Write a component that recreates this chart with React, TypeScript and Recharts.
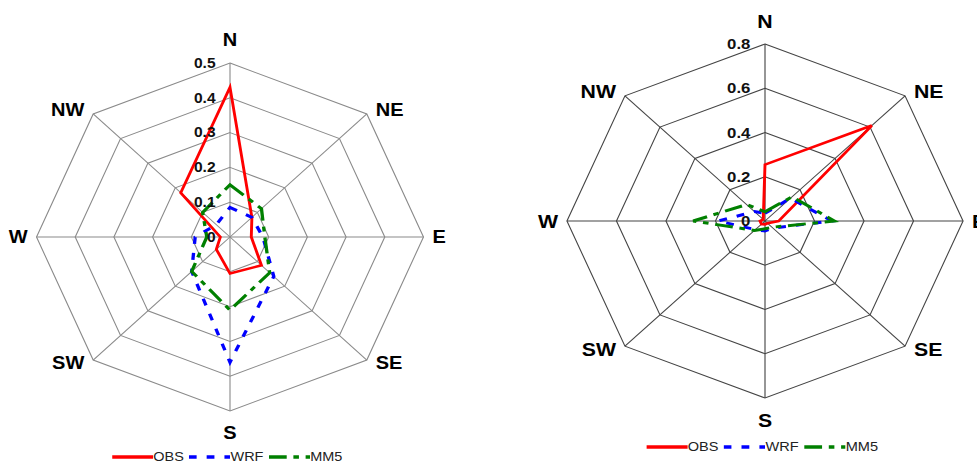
import React from "react";
import { RadarChart, Radar, PolarGrid, PolarAngleAxis, PolarRadiusAxis, Legend } from "recharts";

const DIRS = ["N", "NE", "E", "SE", "S", "SW", "W", "NW"];

// left rose
const ticksLeft = [0, 0.1, 0.2, 0.3, 0.4, 0.5];
const obsLeft = [0.43, 0.08, 0.055, 0.115, 0.105, 0.05, 0.025, 0.18];
const wrfLeft = [0.085, 0.08, 0.085, 0.16, 0.36, 0.14, 0.09, 0.05];
const mm5Left = [0.15, 0.115, 0.09, 0.145, 0.21, 0.14, 0.06, 0.1];

// right rose
const ticksRight = [0, 0.2, 0.4, 0.6, 0.8];
const obsRight = [0.255, 0.61, 0.055, 0.015, 0.015, 0.02, 0.02, 0.01];
const wrfRight = [0.035, 0.145, 0.27, 0.045, 0.045, 0.055, 0.19, 0.06];
const mm5Right = [0.042, 0.155, 0.28, 0.04, 0.035, 0.06, 0.29, 0.105];

const FONT = '"Liberation Sans", Arial, sans-serif';

const SERIES = [
  { key: "OBS", color: "#ff0000", dash: undefined as string | undefined, width: 2.6 },
  { key: "WRF", color: "#0000ff", dash: "7 9", width: 3 },
  { key: "MM5", color: "#008000", dash: "16 6 5 6", width: 3 },
];

const build = (obs: number[], wrf: number[], mm5: number[]) =>
  DIRS.map((dir, i) => ({ dir, OBS: obs[i], WRF: wrf[i], MM5: mm5[i] }));

type RoseProps = {
  data: any[];
  ticks: number[];
  cx: number;
  cy: number;
  r: number;
  sx: number;
  screenCx: number;
  labelSize: number;
  tickSize: number;
  grid: string;
  legendTop: number;
};

function Rose(p: RoseProps) {
  const W = 480;
  const H = 464;
  const max = p.ticks[p.ticks.length - 1];

  // labels sit just outside the octagon corners, anchored like the original
  const angleTick = (props: any) => {
    const { x, y, payload } = props;
    const dx = x - p.cx;
    const dy = y - p.cy;
    const len = Math.hypot(dx, dy) || 1;
    const ux = dx / len;
    const uy = dy / len;
    const vx = p.cx + ux * p.r;
    const vy = p.cy + uy * p.r;
    let anchor = "middle";
    let tx = vx;
    let ty = vy;
    if (ux > 0.1) {
      anchor = "start";
      tx = vx + 8;
    } else if (ux < -0.1) {
      anchor = "end";
      tx = vx - 8;
    }
    if (uy < -0.9) ty = vy - 23;
    else if (uy > 0.9) ty = vy + 22;
    else if (uy < -0.1) ty = vy - 4;
    else if (uy > 0.1) ty = vy + 3;
    return (
      <text
        x={tx}
        y={ty}
        textAnchor={anchor}
        dominantBaseline="central"
        fontFamily={FONT}
        fontWeight="bold"
        fontSize={p.labelSize}
        fill="#000"
      >
        {payload.value}
      </text>
    );
  };

  const radiusTick = (props: any) => {
    const { x, y, payload } = props;
    return (
      <text
        x={x - 13}
        y={y}
        textAnchor="end"
        dominantBaseline="central"
        fontFamily={FONT}
        fontWeight="bold"
        fontSize={p.tickSize}
        fill="#111"
      >
        {String(Number(Number(payload.value).toFixed(1)))}
      </text>
    );
  };

  const legend = () => (
    <div style={{ display: "flex", justifyContent: "center", alignItems: "center", fontFamily: FONT, fontSize: 13, color: "#222" }}>
      {SERIES.map((s) => (
        <div key={s.key} style={{ display: "flex", alignItems: "center", marginRight: 5 }}>
          <svg width={37} height={10}>
            <line x1={0} y1={5} x2={37} y2={5} stroke={s.color} strokeWidth={3.5} strokeDasharray={s.dash} />
          </svg>
          <span>{s.key}</span>
        </div>
      ))}
    </div>
  );

  return (
    <div
      style={{
        position: "absolute",
        left: p.screenCx - p.cx,
        top: 0,
        width: W,
        height: H,
        transform: `scaleX(${p.sx})`,
        transformOrigin: `${p.cx}px 0px`,
      }}
    >
      <RadarChart width={W} height={H} data={p.data} cx={p.cx} cy={p.cy} outerRadius={p.r} margin={{ top: 0, right: 0, bottom: 0, left: 0 }}>
        <PolarGrid gridType="polygon" stroke={p.grid} strokeWidth={1} />
        <PolarAngleAxis dataKey="dir" tick={angleTick} tickLine={false} axisLine={false} />
        <PolarRadiusAxis
          angle={90}
          type="number"
          domain={[0, max]}
          ticks={p.ticks}
          tickCount={p.ticks.length}
          allowDecimals={true}
          allowDataOverflow
          axisLine={false}
          tick={radiusTick}
        />
        {SERIES.map((s) => (
          <Radar
            key={s.key}
            name={s.key}
            dataKey={s.key}
            stroke={s.color}
            strokeWidth={s.width}
            strokeDasharray={s.dash}
            fill="none"
            fillOpacity={0}
            dot={false}
            isAnimationActive={false}
          />
        ))}
        <Legend content={legend} wrapperStyle={{ position: "absolute", left: 0, top: p.legendTop, width: W }} />
      </RadarChart>
    </div>
  );
}

export default function App() {
  return (
    <div style={{ position: "fixed", left: 0, top: 0, width: 977, height: 464, overflow: "hidden", background: "#fff" }}>
      <Rose
        data={build(obsLeft, wrfLeft, mm5Left)}
        ticks={ticksLeft}
        cx={240}
        cy={237}
        r={174}
        sx={1.112}
        screenCx={230}
        labelSize={18}
        tickSize={14}
        grid="#8a8a8a"
        legendTop={449}
      />
      <Rose
        data={build(obsRight, wrfRight, mm5Right)}
        ticks={ticksRight}
        cx={240}
        cy={221}
        r={177}
        sx={1.119}
        screenCx={765}
        labelSize={19}
        tickSize={15}
        grid="#444"
        legendTop={439}
      />
    </div>
  );
}
